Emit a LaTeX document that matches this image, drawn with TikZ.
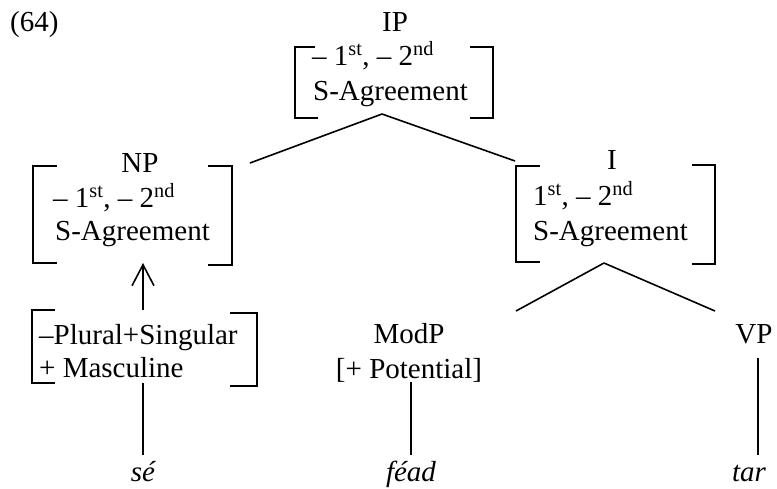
\documentclass[tikz,border=0pt]{standalone}
\usepackage{fontspec}
\setmainfont{Liberation Serif}
\usetikzlibrary{arrows.meta}
\begin{document}
\begin{tikzpicture}[x=1pt,y=-1pt,
  lbl/.style={inner sep=0pt, anchor=base, font=\fontsize{29}{34}\selectfont},
  lblw/.style={lbl, anchor=base west},
  brk/.style={line width=1.6pt},
  edge/.style={line width=1.6pt}]
\useasboundingbox (0,0) rectangle (777,488);

% labels
\node[lblw] (n64) at (10,31) {(64)};
\node[lbl] (ip) at (395,31) {IP};
\node[lblw] (ip1) at (312,65) {– 1\textsuperscript{st}, – 2\textsuperscript{nd}};
\node[lblw] (ip2) at (313,100) {S-Agreement};

\node[lbl] (np) at (140,172) {NP};
\node[lblw] (np1) at (53,207) {– 1\textsuperscript{st}, – 2\textsuperscript{nd}};
\node[lblw] (np2) at (55,240) {S-Agreement};

\node[lbl] (i) at (612,169) {I};
\node[lblw] (i1) at (533,205) {1\textsuperscript{st}, – 2\textsuperscript{nd}};
\node[lblw] (i2) at (533,240) {S-Agreement};

\node[lblw] (f1) at (39,344) {–Plural+Singular};
\node[lblw] (f2) at (39,377) {+ Masculine};

\node[lbl] (modp) at (409,343) {ModP};
\node[lbl] (pot) at (409,378) {[+ Potential]};
\node[lbl] (vp) at (754,343) {VP};

\node[lbl] (se) at (143,481) {\itshape sé};
\node[lbl] (fead) at (411,481) {\itshape féad};
\node[lbl] (tar) at (749,481) {\itshape tar};

% brackets
\draw[brk] (315,47) -- (295,47) -- (295,118) -- (318,118);
\draw[brk] (470,47) -- (493,47) -- (493,118) -- (470,118);
\draw[brk] (57,166) -- (33,166) -- (33,263) -- (57,263);
\draw[brk] (208,166) -- (232,166) -- (232,265) -- (208,265);
\draw[brk] (540,166) -- (516,166) -- (516,262) -- (540,262);
\draw[brk] (692,165) -- (715,165) -- (715,264) -- (692,264);
\draw[brk] (55,310) -- (32,310) -- (32,383) -- (55,383);
\draw[brk] (230,313) -- (257,313) -- (257,386) -- (230,386);

% connector points
\coordinate (ipb) at (382,114);
\coordinate (npt) at (250,163);
\coordinate (it) at (515,161);
\coordinate (ib) at (604,263);
\coordinate (modt) at (516,311);
\coordinate (vpt) at (715,311);
\coordinate (npb) at (143,263);
\coordinate (ft) at (143,310);
\coordinate (fb) at (143,383);
\coordinate (set) at (143,455);
\coordinate (potb) at (411,382);
\coordinate (feadt) at (411,455);
\coordinate (vpb) at (758,358);
\coordinate (tart) at (758,455);

\draw[edge] (ipb) -- (npt);
\draw[edge] (ipb) -- (it);
\draw[edge] (ib) -- (modt);
\draw[edge] (ib) -- (vpt);
\draw[edge, -{Straight Barb[length=21pt,width=22pt]}] (ft) -- (npb);
\draw[edge] (fb) -- (set);
\draw[edge] (potb) -- (feadt);
\draw[edge] (vpb) -- (tart);
\end{tikzpicture}
\end{document}
